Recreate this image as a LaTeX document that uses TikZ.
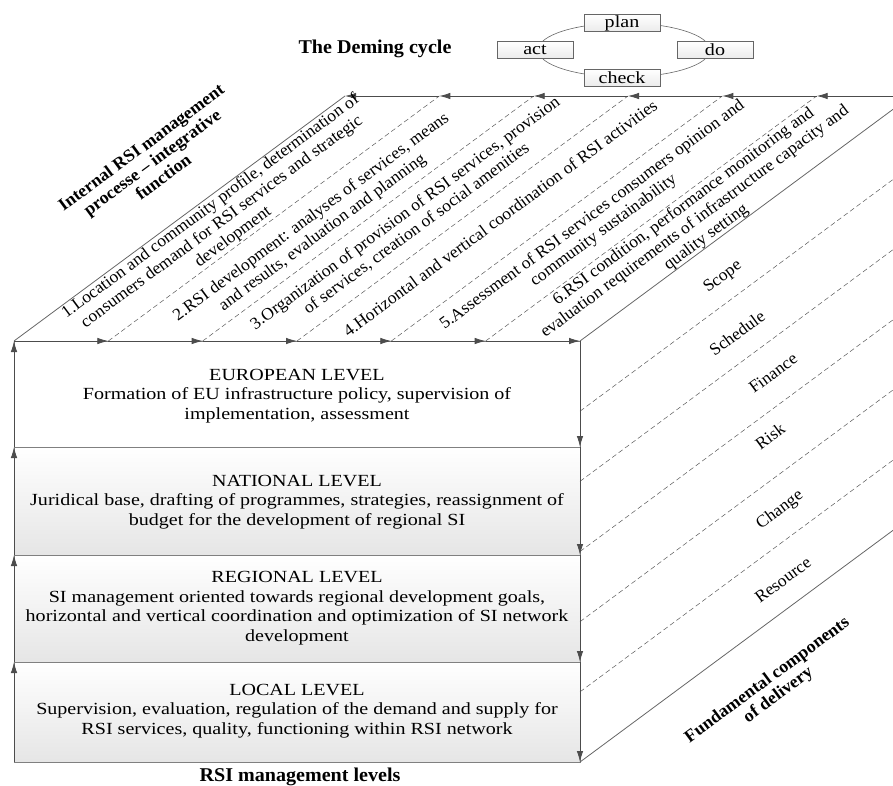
\documentclass[tikz,border=0pt]{standalone}
\usepackage{fontspec}
\setmainfont{Liberation Serif}[FakeStretch=1.03]
\newfontfamily\boxfont{Liberation Serif}[FakeStretch=1.18]
\usetikzlibrary{arrows.meta,calc}
\begin{document}
\begin{tikzpicture}[x=1pt,y=-1pt,
  edge/.style={draw=black!60, line width=0.8pt},
  arr/.style={draw=black!70, line width=0.8pt, -{Latex[length=11pt,width=6.5pt]}},
  dashln/.style={draw=black!65, line width=0.5pt, dash pattern=on 5pt off 3pt},
  lvl/.style={draw=black!50, line width=0.8pt, top color=white, bottom color=black!10},
  lvltext/.style={align=center, font=\boxfont\fontsize{17}{19.5}\selectfont},
  facetext/.style={rotate=36.5, align=center, font=\fontsize{17}{19}\selectfont},
  ttl/.style={font=\fontsize{17.5}{18.5}\selectfont\bfseries, align=center},
  httl/.style={font=\fontsize{19.5}{21}\selectfont\bfseries, align=center},
  pdca/.style={draw=black!60, top color=white, bottom color=black!8, minimum width=76pt, minimum height=17pt, inner sep=0pt, font=\boxfont\fontsize{17}{17}\selectfont}
]
\useasboundingbox (0,0) rectangle (893,785);
\clip (0,0) rectangle (893,785);
% corners
\foreach \k in {0,...,6} {
  \coordinate (f\k) at ({14+94.333*\k},341);
  \coordinate (b\k) at ({345+94.333*\k},96);
  \coordinate (r\k) at (580,{341+70.167*\k});
  \coordinate (s\k) at (911,{96+70.167*\k});
}
\coordinate (l0) at (14,341); \coordinate (m0) at (580,341);
\coordinate (l1) at (14,447); \coordinate (m1) at (580,447);
\coordinate (l2) at (14,555); \coordinate (m2) at (580,555);
\coordinate (l3) at (14,662); \coordinate (m3) at (580,662);
\coordinate (l4) at (14,762); \coordinate (m4) at (580,762);
% level boxes
\draw[draw=black!50, line width=0.8pt, fill=white] (l0) rectangle (m1);
\draw[lvl] (l1) rectangle (m2);
\draw[lvl] (l2) rectangle (m3);
\draw[lvl] (l3) rectangle (m4);
\node[lvltext] (eu) at (297,396) {EUROPEAN LEVEL\\Formation of EU infrastructure policy, supervision of\\implementation, assessment};
\node[lvltext] (nat) at (297,502) {NATIONAL LEVEL\\Juridical base, drafting of programmes, strategies, reassignment of\\budget for the development of regional SI};
\node[lvltext] (reg) at (297,608) {REGIONAL LEVEL\\SI management oriented towards regional development goals,\\horizontal and vertical coordination and optimization of SI network\\development};
\node[lvltext] (loc) at (297,711) {LOCAL LEVEL\\Supervision, evaluation, regulation of the demand and supply for\\RSI services, quality, functioning within RSI network};
% top face
\draw[edge] (f0) -- (b0);
\foreach \k in {1,...,5} { \draw[dashln] (f\k) -- (b\k); }
\foreach \k [evaluate=\k as \n using int(\k+1)] in {0,...,5} {
  \draw[arr] (f\k) -- (f\n);
  \draw[arr] (b\n) -- (b\k);
}
% right face
\draw[edge] (r0) -- (s0);
\draw[edge] (r6) -- (s6);
\foreach \k in {1,...,5} { \draw[dashln] (r\k) -- (s\k); }
% vertical edges
\draw[arr] (l1) -- (l0); \draw[arr] (l2) -- (l1); \draw[arr] (l3) -- (l2); \draw[arr] (l4) -- (l3);
\draw[arr] (m0) -- (m1); \draw[arr] (m1) -- (m2); \draw[arr] (m2) -- (m3); \draw[arr] (m3) -- (m4);
% top face texts
\node[facetext] (p1) at (222,222) {1.Location and community profile, determination of\\consumers demand for RSI services and strategic\\development};
\node[facetext] (p2) at (317,225) {2.RSI development: analyses of services, means\\and results, evaluation and planning};
\node[facetext] (p3) at (411,221) {3.Organization of provision of RSI services, provision\\of services, creation of social amenities};
\node[facetext] (p4) at (500,218) {4.Horizontal and vertical coordination of RSI activities};
\node[facetext] (p5) at (598,223) {5.Assessment of RSI services consumers opinion and\\community sustainability};
\node[facetext] (p6) at (695,222) {6.RSI condition, performance monitoring and\\evaluation requirements of infrastructure capacity and\\quality setting};
% right face texts
\node[facetext] (c1) at (723,277) {Scope};
\node[facetext] (c2) at (737,333) {Schedule};
\node[facetext] (c3) at (773,373) {Finance};
\node[facetext] (c4) at (770,436) {Risk};
\node[facetext] (c5) at (780,510) {Change};
\node[facetext] (c6) at (783,580) {Resource};
% titles
\node[ttl, rotate=36.5] (t1) at (152,162) {Internal RSI management\\processe -- integrative\\function};
\node[ttl, rotate=36.5] (t2) at (773,688) {Fundamental components\\of delivery};
\node[httl] (t3) at (300,777) {RSI management levels};
\node[httl] (t4) at (375,49) {The Deming cycle};
% Deming cycle
\draw[black!60, line width=0.6pt] (624,50) ellipse [x radius=86pt, y radius=27pt];
\node[pdca] (plan) at (622,23) {plan};
\node[pdca] (act) at (535,50) {act};
\node[pdca] (do) at (715,50) {do};
\node[pdca] (check) at (622,78) {check};
\end{tikzpicture}
\end{document}
